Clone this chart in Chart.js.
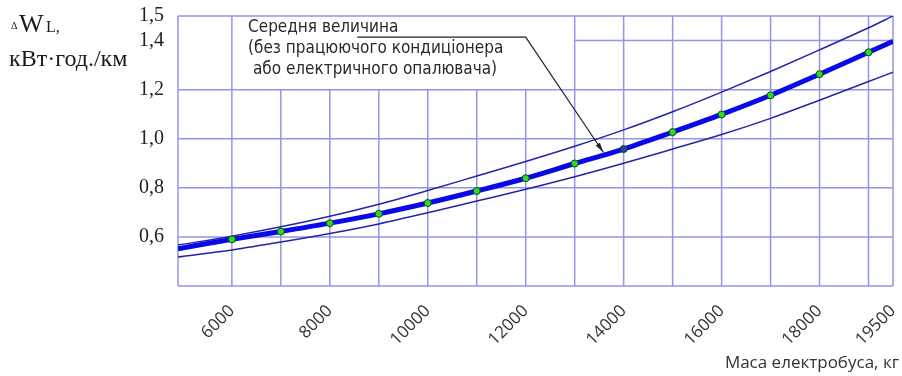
<!DOCTYPE html>
<html>
<head>
<meta charset="utf-8">
<script src="https://cdn.jsdelivr.net/npm/chart.js@4.4.1/dist/chart.umd.min.js"></script>
<style>
  html, body { margin: 0; padding: 0; background: #ffffff; }
  #wrap { width: 902px; height: 376px; }
</style>
</head>
<body>
<div id="wrap"><canvas id="chart" width="902" height="376"></canvas></div>
<script>
// Bus mass, kg
const massKg = [4900, 6000, 7000, 8000, 9000, 10000, 11000, 12000, 13000, 14000, 15000, 16000, 17000, 18000, 19000, 19500];
// Mean energy loss, kWh/km (no A/C or electric heater running)
const meanLoss = [0.552, 0.590, 0.622, 0.656, 0.694, 0.738, 0.787, 0.839, 0.899, 0.958, 1.027, 1.099, 1.177, 1.263, 1.352, 1.397];
// Upper and lower bounds
const upperLoss = [0.567, 0.603, 0.641, 0.684, 0.733, 0.789, 0.848, 0.907, 0.969, 1.036, 1.110, 1.190, 1.274, 1.362, 1.452, 1.500];
const lowerLoss = [0.518, 0.547, 0.579, 0.614, 0.653, 0.698, 0.746, 0.794, 0.845, 0.900, 0.958, 1.017, 1.083, 1.157, 1.233, 1.271];

const xTickValues = [6000, 8000, 10000, 12000, 14000, 16000, 18000, 19500];
const yTickValues = [0.6, 0.8, 1.0, 1.2, 1.4, 1.5];

const noteLines = ['Середня величина', '(без працюючого кондиціонера', ' або електричного опалювача)'];
const xTitle = 'Маса електробуса, кг';
const yUnit = 'кВт·год./км';

// Graph-paper grid (data units)
const gridXFull = [4900, 6000, 13000, 14000, 15000, 16000, 17000, 18000, 19000, 19500];
const gridXShort = [7000, 8000, 9000, 10000, 11000, 12000];
const gridYFull = [0.4, 0.6, 0.8, 1.0, 1.2, 1.5];
const gridYPartial = [1.4];

// Leader from the note to the mean curve (data units)
const leaderPath = [[8560, 1.414], [12000, 1.414], [13587, 0.944]];
const noteAnchor = [6330, 1.435];

const GRID = 'rgb(148,148,232)';
const THIN = 'rgb(36,36,168)';
const THICK = 'rgb(8,8,232)';

const toXY = (arr) => massKg.map((m, i) => ({ x: m, y: arr[i] }));

const paperGrid = {
  id: 'paperGrid',
  beforeDatasetsDraw(chart) {
    const { ctx, scales: { x, y } } = chart;
    ctx.save();
    ctx.strokeStyle = GRID;
    ctx.lineWidth = 1.5;
    const seg = (x1, y1, x2, y2) => { ctx.beginPath(); ctx.moveTo(x1, y1); ctx.lineTo(x2, y2); ctx.stroke(); };
    const yb = y.getPixelForValue(y.min), yt = y.getPixelForValue(y.max);
    const xl = x.getPixelForValue(x.min), xr = x.getPixelForValue(x.max);
    gridXFull.forEach(v => { const p = x.getPixelForValue(v); seg(p, yb, p, yt); });
    gridXShort.forEach(v => { const p = x.getPixelForValue(v); seg(p, yb, p, y.getPixelForValue(1.2)); });
    gridYFull.forEach(v => { const p = y.getPixelForValue(v); seg(xl, p, xr, p); });
    gridYPartial.forEach(v => { const p = y.getPixelForValue(v); seg(x.getPixelForValue(13000), p, xr, p); });
    ctx.restore();
  }
};

const notes = {
  id: 'notes',
  afterDraw(chart) {
    const { ctx, scales: { x, y } } = chart;
    ctx.save();
    // Note text
    ctx.fillStyle = '#2a2a2a';
    ctx.font = '17px "DejaVu Sans Condensed"';
    ctx.textBaseline = 'alphabetic';
    const nx = x.getPixelForValue(noteAnchor[0]);
    const ny = y.getPixelForValue(noteAnchor[1]);
    noteLines.forEach((t, i) => ctx.fillText(t, nx, ny + i * 21));
    // Leader with arrowhead
    const pts = leaderPath.map(p => [x.getPixelForValue(p[0]), y.getPixelForValue(p[1])]);
    ctx.strokeStyle = '#222';
    ctx.lineWidth = 1.2;
    ctx.beginPath();
    pts.forEach((p, i) => i ? ctx.lineTo(p[0], p[1]) : ctx.moveTo(p[0], p[1]));
    ctx.stroke();
    const a = pts[pts.length - 2], b = pts[pts.length - 1];
    const ang = Math.atan2(b[1] - a[1], b[0] - a[0]);
    ctx.fillStyle = '#222';
    ctx.beginPath();
    ctx.moveTo(b[0], b[1]);
    ctx.lineTo(b[0] - 10 * Math.cos(ang) + 2.5 * Math.sin(ang), b[1] - 10 * Math.sin(ang) - 2.5 * Math.cos(ang));
    ctx.lineTo(b[0] - 10 * Math.cos(ang) - 2.5 * Math.sin(ang), b[1] - 10 * Math.sin(ang) + 2.5 * Math.cos(ang));
    ctx.closePath();
    ctx.fill();
    // Y quantity label
    ctx.fillStyle = '#1a1a1a';
    ctx.font = '10px "Liberation Serif"';
    ctx.fillText('Δ', 11, 29);
    ctx.font = '26px "Liberation Serif"';
    ctx.fillText('W', 19, 32);
    ctx.font = '16px "Liberation Serif"';
    ctx.fillText('L,', 46, 32);
    ctx.font = '24px "Liberation Serif"';
    ctx.fillText(yUnit, 9, 66);
    // X axis title
    ctx.fillStyle = '#333';
    ctx.font = '17px "Open Sans"';
    ctx.textAlign = 'right';
    ctx.fillText(xTitle, chart.width - 3, 368);
    ctx.restore();
  }
};

new Chart(document.getElementById('chart'), {
  type: 'line',
  data: {
    datasets: [
      {
        data: toXY(meanLoss),
        borderColor: THICK,
        borderWidth: 5,
        cubicInterpolationMode: 'monotone',
        pointRadius: massKg.map(m => (m % 1000 === 0 ? 3.5 : 0)),
        pointBackgroundColor: massKg.map(m => (m === 14000 ? 'rgb(40,60,170)' : 'rgb(40,220,40)')),
        pointBorderColor: 'rgb(20,70,20)',
        pointBorderWidth: 1,
        order: 0
      },
      {
        data: toXY(upperLoss),
        borderColor: THIN,
        borderWidth: 1.5,
        cubicInterpolationMode: 'monotone',
        pointRadius: 0,
        order: 1
      },
      {
        data: toXY(lowerLoss),
        borderColor: THIN,
        borderWidth: 1.5,
        cubicInterpolationMode: 'monotone',
        pointRadius: 0,
        order: 1
      }
    ]
  },
  options: {
    responsive: false,
    animation: false,
    devicePixelRatio: 1,
    layout: { padding: { top: 16, right: 9, bottom: 4, left: 0 } },
    plugins: { legend: { display: false }, tooltip: { enabled: false } },
    scales: {
      x: {
        type: 'linear',
        min: 4900,
        max: 19500,
        grid: { display: false },
        border: { display: false },
        afterBuildTicks: s => { s.ticks = xTickValues.map(v => ({ value: v })); },
        afterFit: s => { s.height = 86; s.paddingLeft = 0; s.paddingRight = 0; },
        ticks: {
          autoSkip: false,
          maxRotation: 45,
          minRotation: 45,
          padding: 7,
          color: '#333',
          font: { family: 'Open Sans', size: 17 },
          callback: v => String(v)
        }
      },
      y: {
        min: 0.4,
        max: 1.5,
        grid: { display: false },
        border: { display: false },
        afterBuildTicks: s => { s.ticks = yTickValues.map(v => ({ value: v })); },
        afterFit: s => { s.width = 178; s.paddingTop = 0; s.paddingBottom = 0; },
        ticks: {
          autoSkip: false,
          padding: 6,
          color: '#222',
          font: { family: 'Liberation Serif', size: 20 },
          callback: v => v.toFixed(1).replace('.', ',')
        }
      }
    }
  },
  plugins: [paperGrid, notes]
});
</script>
</body>
</html>
